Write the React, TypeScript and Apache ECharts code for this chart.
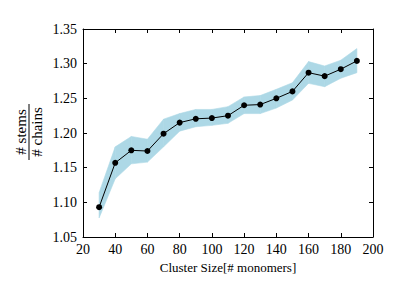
import React, { useEffect, useRef } from "react";
import * as echarts from "echarts";

const clusterSizes = [30, 40, 50, 60, 70, 80, 90, 100, 110, 120, 130, 140, 150, 160, 170, 180, 190];
const ratio = [1.093, 1.157, 1.175, 1.174, 1.199, 1.215, 1.2205, 1.2215, 1.225, 1.24, 1.241, 1.25, 1.26, 1.287, 1.282, 1.292, 1.304];
const upperBand = [1.114, 1.18, 1.195, 1.191, 1.22, 1.228, 1.234, 1.234, 1.238, 1.252, 1.254, 1.263, 1.2725, 1.303, 1.2966, 1.305, 1.3217];
const lowerBand = [1.0775, 1.134, 1.1555, 1.158, 1.18, 1.2027, 1.209, 1.211, 1.214, 1.228, 1.228, 1.236, 1.2475, 1.2716, 1.2668, 1.279, 1.287];

const FONT = "Liberation Serif";

export default function App() {
  const ref = useRef<HTMLDivElement>(null);
  useEffect(() => {
    if (!ref.current) return;
    const chart = echarts.init(ref.current, undefined, { renderer: "svg" });
    const axisCommon = {
      axisLine: { show: true, lineStyle: { color: "#000", width: 1 } },
      axisTick: { show: true, inside: true, length: 4, lineStyle: { color: "#000" } },
      splitLine: { show: false },
    };
    const bandData = clusterSizes.map((x, i) => [x, lowerBand[i], upperBand[i]]);
    chart.setOption({
      animation: false,
      backgroundColor: "#fff",
      grid: { left: 83, right: 42, top: 29, bottom: 60 },
      xAxis: [
        {
          type: "value", min: 20, max: 200, interval: 20,
          ...axisCommon,
          axisLabel: { color: "#000", fontFamily: FONT, fontSize: 14, margin: 5 },
          name: "Cluster Size[# monomers]",
          nameLocation: "middle",
          nameGap: 20,
          nameTextStyle: { color: "#000", fontFamily: FONT, fontSize: 13 },
        },
        {
          type: "value", min: 20, max: 200, interval: 20, position: "top",
          ...axisCommon, axisLabel: { show: false },
        },
      ],
      yAxis: [
        {
          type: "value", min: 1.05, max: 1.35, interval: 0.05,
          ...axisCommon,
          axisLabel: { color: "#000", fontFamily: FONT, fontSize: 14, margin: 6, formatter: (v: number) => v.toFixed(2) },
        },
        {
          type: "value", min: 1.05, max: 1.35, interval: 0.05, position: "right",
          ...axisCommon, axisLabel: { show: false },
        },
      ],
      graphic: [
        {
          type: "group", x: 29, y: 132, rotation: Math.PI / 2,
          children: [
            { type: "text", x: 0, y: -8, style: { text: "# stems", fontFamily: FONT, fontSize: 15, fill: "#000", align: "center", verticalAlign: "middle" } },
            { type: "line", shape: { x1: -28, y1: 0, x2: 28, y2: 0 }, style: { stroke: "#000", lineWidth: 1 } },
            { type: "text", x: 0, y: 8, style: { text: "# chains", fontFamily: FONT, fontSize: 15, fill: "#000", align: "center", verticalAlign: "middle" } },
          ],
        },
      ],
      series: [
        {
          type: "custom",
          silent: true,
          z: 1,
          data: bandData,
          encode: { x: 0, y: [1, 2] },
          renderItem: (params: any, api: any) => {
            const i = params.dataIndex;
            if (i >= bandData.length - 1) return null;
            const a = bandData[i];
            const b = bandData[i + 1];
            const pts = [
              api.coord([a[0], a[1]]),
              api.coord([b[0], b[1]]),
              api.coord([b[0], b[2]]),
              api.coord([a[0], a[2]]),
            ];
            return {
              type: "polygon",
              shape: { points: pts },
              style: { fill: "#add8e6", stroke: "#add8e6", lineWidth: 0.6 },
            };
          },
        },
        {
          type: "line", symbol: "circle", symbolSize: 6, z: 3,
          itemStyle: { color: "#000" },
          lineStyle: { color: "#000", width: 1 },
          data: clusterSizes.map((x, i) => [x, ratio[i]]),
        },
      ],
    });
    return () => chart.dispose();
  }, []);
  return <div ref={ref} style={{ width: 415, height: 297, position: "absolute", left: 0, top: 0 }} />;
}
